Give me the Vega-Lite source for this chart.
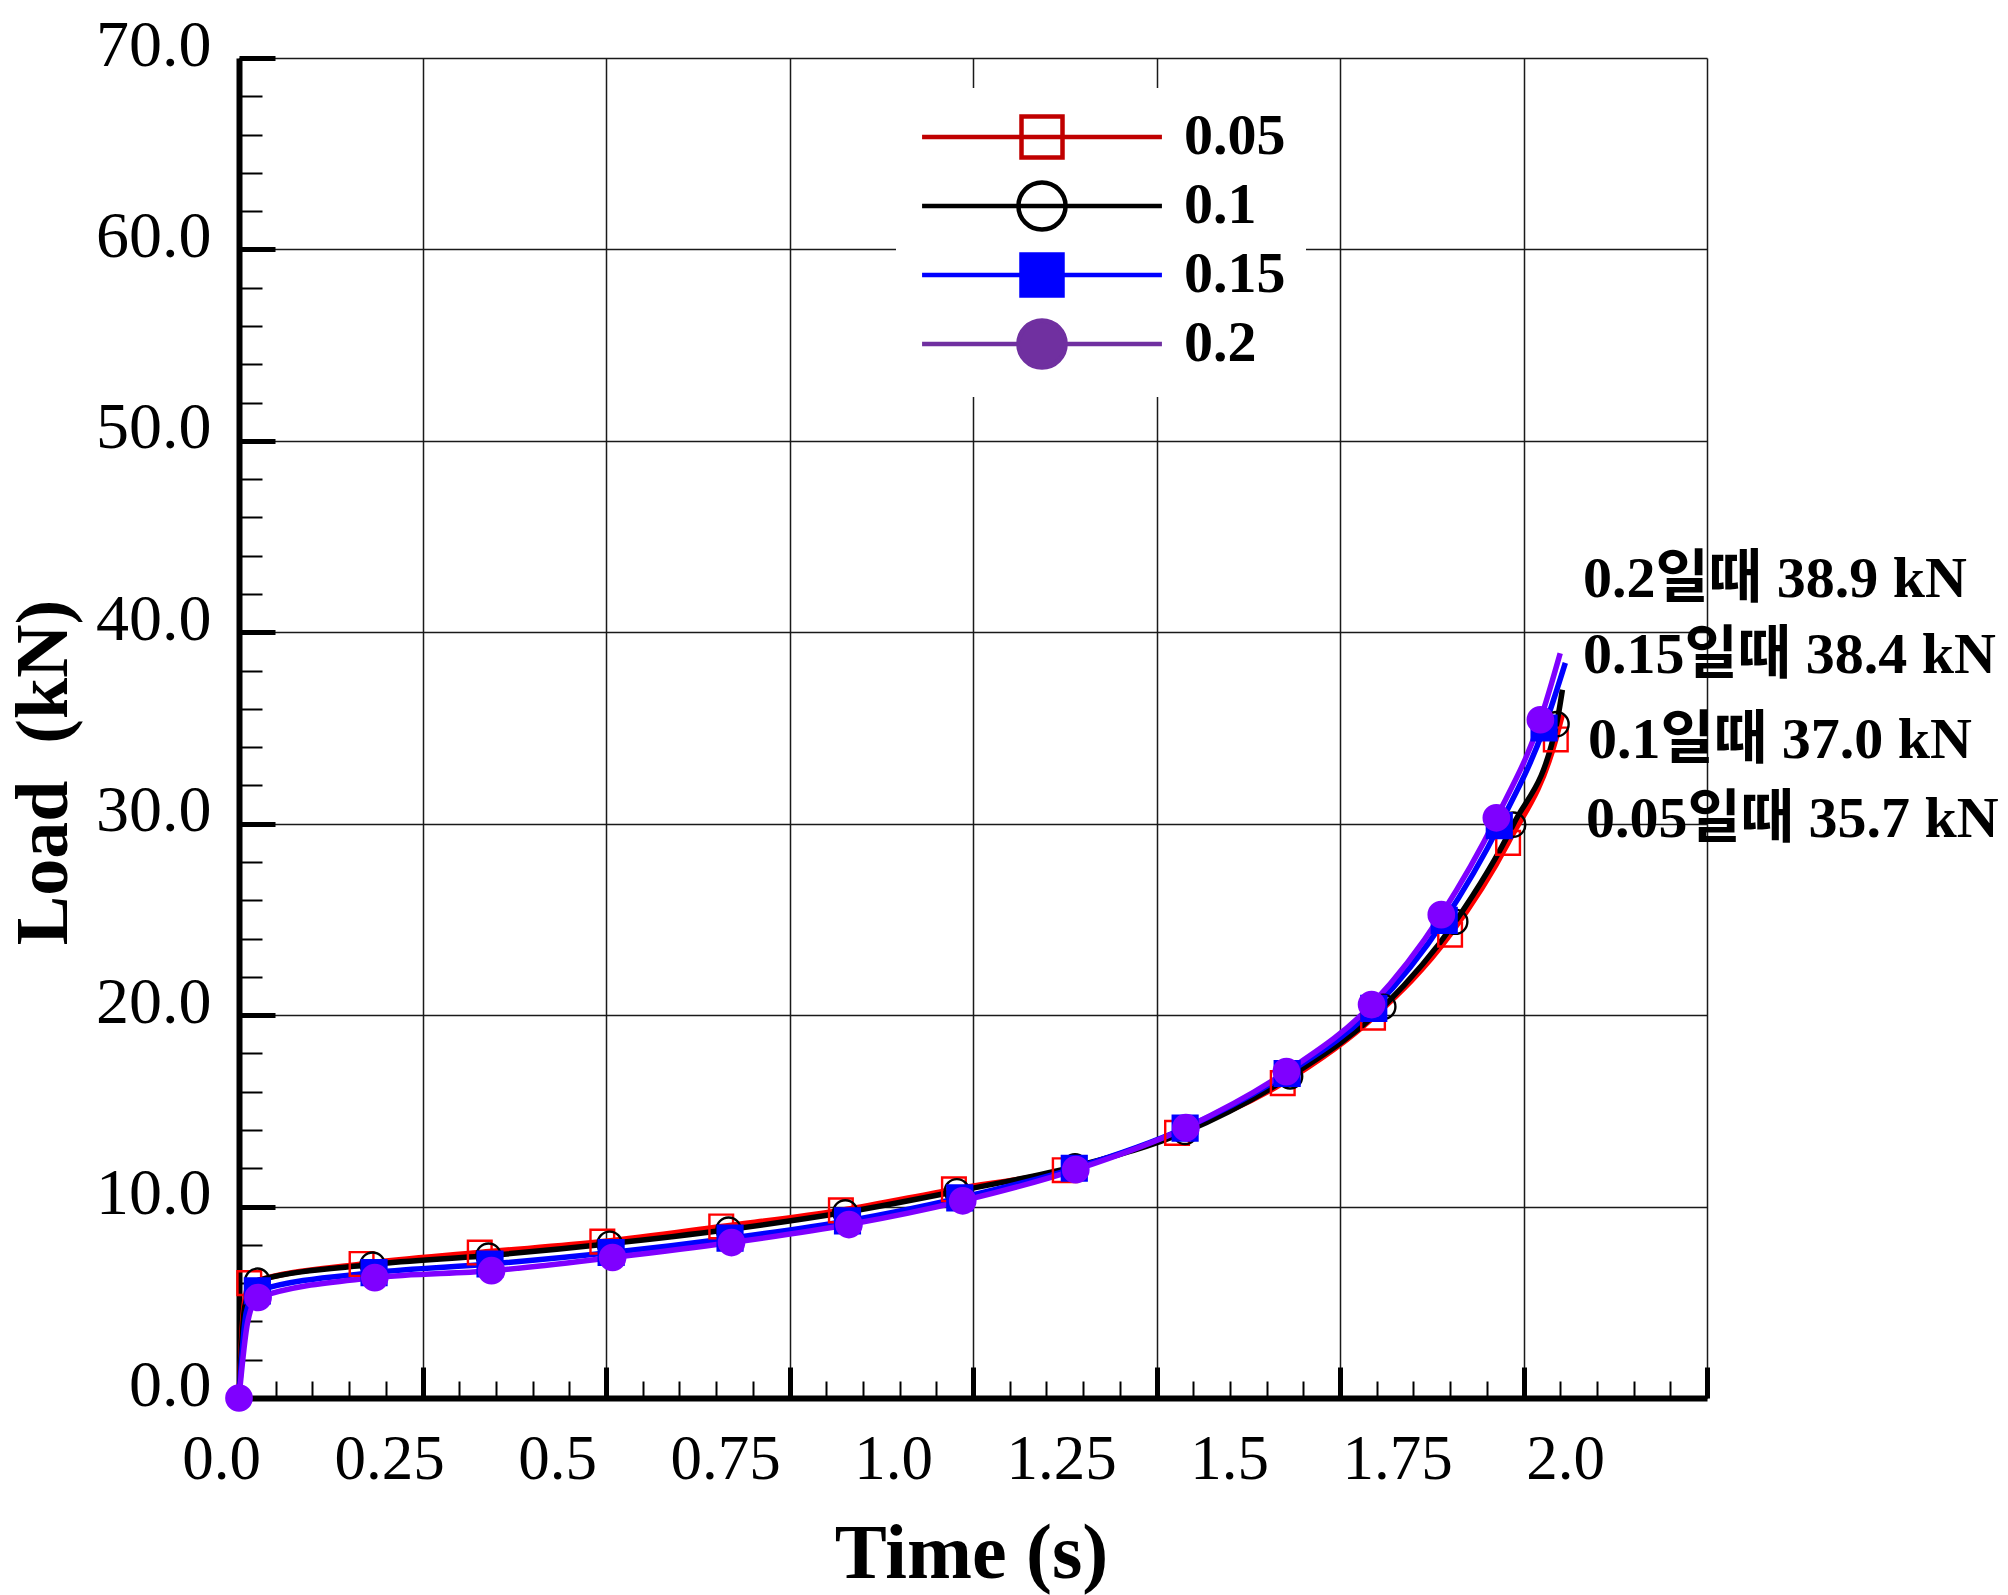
{
  "$schema": "https://vega.github.io/schema/vega-lite/v6.json",
  "width": 1468,
  "height": 1340,
  "autosize": {"type": "none"},
  "padding": {"left": 239, "top": 58, "right": 301, "bottom": 197},
  "background": "white",
  "config": {"view": {"stroke": null}},
  "data": {
    "values": [
      {"s": "0.05", "t": 0, "load": 0, "m": 0},
      {"s": "0.05", "t": 0.006, "load": 4.5, "m": 0},
      {"s": "0.05", "t": 0.014, "load": 6.0, "m": 1},
      {"s": "0.05", "t": 0.167, "load": 7.0, "m": 1},
      {"s": "0.05", "t": 0.328, "load": 7.6, "m": 1},
      {"s": "0.05", "t": 0.495, "load": 8.17, "m": 1},
      {"s": "0.05", "t": 0.657, "load": 8.96, "m": 1},
      {"s": "0.05", "t": 0.82, "load": 9.8, "m": 1},
      {"s": "0.05", "t": 0.974, "load": 10.9, "m": 1},
      {"s": "0.05", "t": 1.125, "load": 11.9, "m": 1},
      {"s": "0.05", "t": 1.278, "load": 13.85, "m": 1},
      {"s": "0.05", "t": 1.422, "load": 16.45, "m": 1},
      {"s": "0.05", "t": 1.545, "load": 19.87, "m": 1},
      {"s": "0.05", "t": 1.65, "load": 24.2, "m": 1},
      {"s": "0.05", "t": 1.729, "load": 29.0, "m": 1},
      {"s": "0.05", "t": 1.794, "load": 34.4, "m": 1},
      {"s": "0.05", "t": 1.803, "load": 35.7, "m": 0},
      {"s": "0.1", "t": 0, "load": 0, "m": 0},
      {"s": "0.1", "t": 0.008, "load": 4.8, "m": 0},
      {"s": "0.1", "t": 0.025, "load": 6.13, "m": 1},
      {"s": "0.1", "t": 0.182, "load": 6.97, "m": 1},
      {"s": "0.1", "t": 0.34, "load": 7.44, "m": 1},
      {"s": "0.1", "t": 0.505, "load": 8.06, "m": 1},
      {"s": "0.1", "t": 0.667, "load": 8.8, "m": 1},
      {"s": "0.1", "t": 0.826, "load": 9.7, "m": 1},
      {"s": "0.1", "t": 0.978, "load": 10.8, "m": 1},
      {"s": "0.1", "t": 1.139, "load": 12.1, "m": 1},
      {"s": "0.1", "t": 1.289, "load": 13.9, "m": 1},
      {"s": "0.1", "t": 1.432, "load": 16.8, "m": 1},
      {"s": "0.1", "t": 1.559, "load": 20.44, "m": 1},
      {"s": "0.1", "t": 1.657, "load": 24.88, "m": 1},
      {"s": "0.1", "t": 1.736, "load": 29.95, "m": 1},
      {"s": "0.1", "t": 1.795, "load": 35.2, "m": 1},
      {"s": "0.1", "t": 1.803, "load": 37.0, "m": 0},
      {"s": "0.15", "t": 0, "load": 0, "m": 0},
      {"s": "0.15", "t": 0.01, "load": 4.5, "m": 0},
      {"s": "0.15", "t": 0.025, "load": 5.6, "m": 1},
      {"s": "0.15", "t": 0.184, "load": 6.55, "m": 1},
      {"s": "0.15", "t": 0.342, "load": 7.0, "m": 1},
      {"s": "0.15", "t": 0.507, "load": 7.6, "m": 1},
      {"s": "0.15", "t": 0.669, "load": 8.35, "m": 1},
      {"s": "0.15", "t": 0.829, "load": 9.25, "m": 1},
      {"s": "0.15", "t": 0.982, "load": 10.45, "m": 1},
      {"s": "0.15", "t": 1.138, "load": 12.0, "m": 1},
      {"s": "0.15", "t": 1.289, "load": 14.1, "m": 1},
      {"s": "0.15", "t": 1.428, "load": 16.95, "m": 1},
      {"s": "0.15", "t": 1.546, "load": 20.35, "m": 1},
      {"s": "0.15", "t": 1.642, "load": 24.95, "m": 1},
      {"s": "0.15", "t": 1.717, "load": 29.9, "m": 1},
      {"s": "0.15", "t": 1.778, "load": 35.0, "m": 1},
      {"s": "0.15", "t": 1.807, "load": 38.4, "m": 0},
      {"s": "0.2", "t": 0, "load": 0, "m": 1},
      {"s": "0.2", "t": 0.012, "load": 4.0, "m": 0},
      {"s": "0.2", "t": 0.026, "load": 5.25, "m": 1},
      {"s": "0.2", "t": 0.185, "load": 6.29, "m": 1},
      {"s": "0.2", "t": 0.344, "load": 6.65, "m": 1},
      {"s": "0.2", "t": 0.509, "load": 7.34, "m": 1},
      {"s": "0.2", "t": 0.671, "load": 8.12, "m": 1},
      {"s": "0.2", "t": 0.831, "load": 9.06, "m": 1},
      {"s": "0.2", "t": 0.986, "load": 10.3, "m": 1},
      {"s": "0.2", "t": 1.14, "load": 11.93, "m": 1},
      {"s": "0.2", "t": 1.29, "load": 14.12, "m": 1},
      {"s": "0.2", "t": 1.427, "load": 17.05, "m": 1},
      {"s": "0.2", "t": 1.543, "load": 20.55, "m": 1},
      {"s": "0.2", "t": 1.638, "load": 25.25, "m": 1},
      {"s": "0.2", "t": 1.713, "load": 30.31, "m": 1},
      {"s": "0.2", "t": 1.773, "load": 35.43, "m": 1},
      {"s": "0.2", "t": 1.8, "load": 38.9, "m": 0}
    ]
  },
  "layer": [
    {
      "encoding": {
        "x": {
          "field": "t", "type": "quantitative",
          "scale": {"domain": [0, 2], "nice": false, "zero": false},
          "axis": {
            "orient": "bottom",
            "values": [0, 0.25, 0.5, 0.75, 1, 1.25, 1.5, 1.75, 2],
            "labels": false,
            "grid": true, "gridColor": "#1a1a1a", "gridWidth": 1.5,
            "domainColor": "black", "domainWidth": 6,
            "tickColor": "black", "tickSize": -31, "tickWidth": 5,
            "title": "Time (s)",
            "titleFont": "Liberation Serif", "titleFontSize": 78, "titleFontWeight": "bold", "titleColor": "black",
            "titleX": 732, "titleY": 179, "titleAlign": "center", "titleBaseline": "alphabetic"
          }
        },
        "y": {
          "field": "load", "type": "quantitative",
          "scale": {"domain": [0, 70], "nice": false, "zero": false},
          "axis": {
            "orient": "left",
            "values": [0, 10, 20, 30, 40, 50, 60, 70],
            "format": ".1f",
            "grid": true, "gridColor": "#1a1a1a", "gridWidth": 1.5,
            "domainColor": "black", "domainWidth": 6,
            "tickColor": "black", "tickSize": -36, "tickWidth": 5,
            "labelFont": "Liberation Serif", "labelFontSize": 66, "labelColor": "black",
            "labelPadding": 64, "labelBaseline": "alphabetic", "labelOffset": 7,
            "labelFlush": false, "labelOverlap": false, "labelBound": false,
            "title": "Load\u00a0\u00a0(kN)",
            "titleFont": "Liberation Serif", "titleFontSize": 74, "titleFontWeight": "bold", "titleColor": "black",
            "titleX": -173, "titleY": 714, "titleAlign": "center", "titleBaseline": "alphabetic", "titleAngle": -90
          }
        }
      },
      "layer": [
        {
          "mark": {"type": "line", "strokeWidth": 5.5, "interpolate": "monotone"},
          "encoding": {
            "stroke": {
              "field": "s", "type": "nominal",
              "scale": {"domain": ["0.05", "0.1", "0.15", "0.2"], "range": ["#FF0000", "#000000", "#0000FF", "#7F00FF"]},
              "legend": null
            }
          }
        },
        {
          "transform": [{"filter": "datum.m == 1"}],
          "mark": {"type": "point", "strokeWidth": 2.4, "opacity": 1},
          "encoding": {
            "stroke": {
              "field": "s", "type": "nominal",
              "scale": {"domain": ["0.05", "0.1", "0.15", "0.2"], "range": ["#FF0000", "#000000", "#0000FF", "#7F00FF"]},
              "legend": null
            },
            "fill": {
              "field": "s", "type": "nominal",
              "scale": {"domain": ["0.05", "0.1", "0.15", "0.2"], "range": ["transparent", "transparent", "#0000FF", "#7F00FF"]},
              "legend": null
            },
            "shape": {
              "field": "s", "type": "nominal",
              "scale": {"domain": ["0.05", "0.1", "0.15", "0.2"], "range": ["square", "circle", "square", "circle"]},
              "legend": null
            },
            "size": {
              "field": "s", "type": "nominal",
              "scale": {"domain": ["0.05", "0.1", "0.15", "0.2"], "range": [560, 640, 560, 860]},
              "legend": null
            }
          }
        }
      ]
    },
    {
      "mark": {"type": "point", "opacity": 0},
      "encoding": {
        "x": {
          "field": "t", "type": "quantitative",
          "scale": {"domain": [0, 2], "range": [-18, 1326], "nice": false, "zero": false},
          "axis": {
            "orient": "bottom",
            "values": [0, 0.25, 0.5, 0.75, 1, 1.25, 1.5, 1.75, 2],
            "labelExpr": "datum.value % 1 == 0 ? format(datum.value, '.1f') : format(datum.value, '~g')",
            "ticks": false, "domain": false, "grid": false, "title": null,
            "labelFont": "Liberation Serif", "labelFontSize": 63, "labelColor": "black",
            "labelBaseline": "alphabetic", "labelPadding": 80,
            "labelFlush": false, "labelOverlap": false, "labelBound": false
          }
        },
        "y": {
          "field": "load", "type": "quantitative",
          "scale": {"domain": [0, 70], "nice": false, "zero": false},
          "axis": {
            "orient": "left",
            "values": [2, 4, 6, 8, 12, 14, 16, 18, 22, 24, 26, 28, 32, 34, 36, 38, 42, 44, 46, 48, 52, 54, 56, 58, 62, 64, 66, 68],
            "labels": false, "domain": false, "grid": false, "title": null,
            "tickColor": "black", "tickSize": -23, "tickWidth": 2
          }
        }
      }
    },
    {
      "mark": {"type": "point", "opacity": 0, "size": 1681},
      "encoding": {
        "shape": {
          "field": "s", "type": "nominal",
          "scale": {"domain": ["0.05", "0.1", "0.15", "0.2"], "range": ["M-5.85,0H5.85M-1,-1H1V1H-1Z", "M-5.85,0H5.85M-1.15,0A1.15,1.15,0,1,1,1.15,0A1.15,1.15,0,1,1,-1.15,0Z", "M-5.85,0H5.85M-1,-1H1V1H-1Z", "M-5.85,0H5.85M-1.15,0A1.15,1.15,0,1,1,1.15,0A1.15,1.15,0,1,1,-1.15,0Z"]},
          "legend": {
            "title": null, "orient": "none", "legendX": 657, "legendY": 30,
            "fillColor": "white", "padding": 20,
            "labelFont": "Liberation Serif", "labelFontSize": 58, "labelFontWeight": "bold", "labelColor": "black",
            "labelOffset": 113, "rowPadding": 6, "symbolOffset": 97,
            "symbolSize": 1681, "symbolStrokeWidth": 4.5, "symbolOpacity": 1
          }
        },
        "stroke": {
          "field": "s", "type": "nominal",
          "scale": {"domain": ["0.05", "0.1", "0.15", "0.2"], "range": ["#C00000", "#000000", "#0000FF", "#7030A0"]},
          "legend": {
            "title": null, "orient": "none", "legendX": 657, "legendY": 30,
            "fillColor": "white", "padding": 20,
            "labelFont": "Liberation Serif", "labelFontSize": 58, "labelFontWeight": "bold", "labelColor": "black",
            "labelOffset": 113, "rowPadding": 6, "symbolOffset": 97,
            "symbolSize": 1681, "symbolStrokeWidth": 4.5, "symbolOpacity": 1
          }
        },
        "fill": {
          "field": "s", "type": "nominal",
          "scale": {"domain": ["0.05", "0.1", "0.15", "0.2"], "range": ["transparent", "transparent", "#0000FF", "#7030A0"]},
          "legend": {
            "title": null, "orient": "none", "legendX": 657, "legendY": 30,
            "fillColor": "white", "padding": 20,
            "labelFont": "Liberation Serif", "labelFontSize": 58, "labelFontWeight": "bold", "labelColor": "black",
            "labelOffset": 113, "rowPadding": 6, "symbolOffset": 97,
            "symbolSize": 1681, "symbolStrokeWidth": 4.5, "symbolOpacity": 1
          }
        }
      }
    },
    {
      "data": {
        "values": [
          {"t": 1.831, "load": 41.84, "note": "0.2일때 38.9 kN"},
          {"t": 1.831, "load": 37.87, "note": "0.15일때 38.4 kN"},
          {"t": 1.838, "load": 33.43, "note": "0.1일때 37.0 kN"},
          {"t": 1.835, "load": 29.31, "note": "0.05일때 35.7 kN"}
        ]
      },
      "mark": {
        "type": "text", "align": "left", "baseline": "alphabetic",
        "font": "Liberation Serif, Noto Sans CJK KR", "fontSize": 58, "fontWeight": "bold", "color": "black"
      },
      "encoding": {
        "x": {
          "field": "t", "type": "quantitative",
          "scale": {"domain": [0, 2], "nice": false, "zero": false},
          "axis": {
            "orient": "bottom",
            "values": [0.05, 0.1, 0.15, 0.2, 0.3, 0.35, 0.4, 0.45, 0.55, 0.6, 0.65, 0.7, 0.8, 0.85, 0.9, 0.95, 1.05, 1.1, 1.15, 1.2, 1.3, 1.35, 1.4, 1.45, 1.55, 1.6, 1.65, 1.7, 1.8, 1.85, 1.9, 1.95],
            "labels": false, "domain": false, "grid": false, "title": null,
            "tickColor": "black", "tickSize": -17, "tickWidth": 2
          }
        },
        "y": {
          "field": "load", "type": "quantitative",
          "scale": {"domain": [0, 70], "nice": false, "zero": false},
          "axis": null
        },
        "text": {"field": "note", "type": "nominal"}
      }
    }
  ],
  "resolve": {
    "scale": {"x": "independent", "y": "independent", "stroke": "independent", "fill": "independent", "shape": "independent", "size": "independent"},
    "axis": {"x": "independent", "y": "independent"},
    "legend": {"stroke": "independent", "fill": "independent", "shape": "independent"}
  }
}
